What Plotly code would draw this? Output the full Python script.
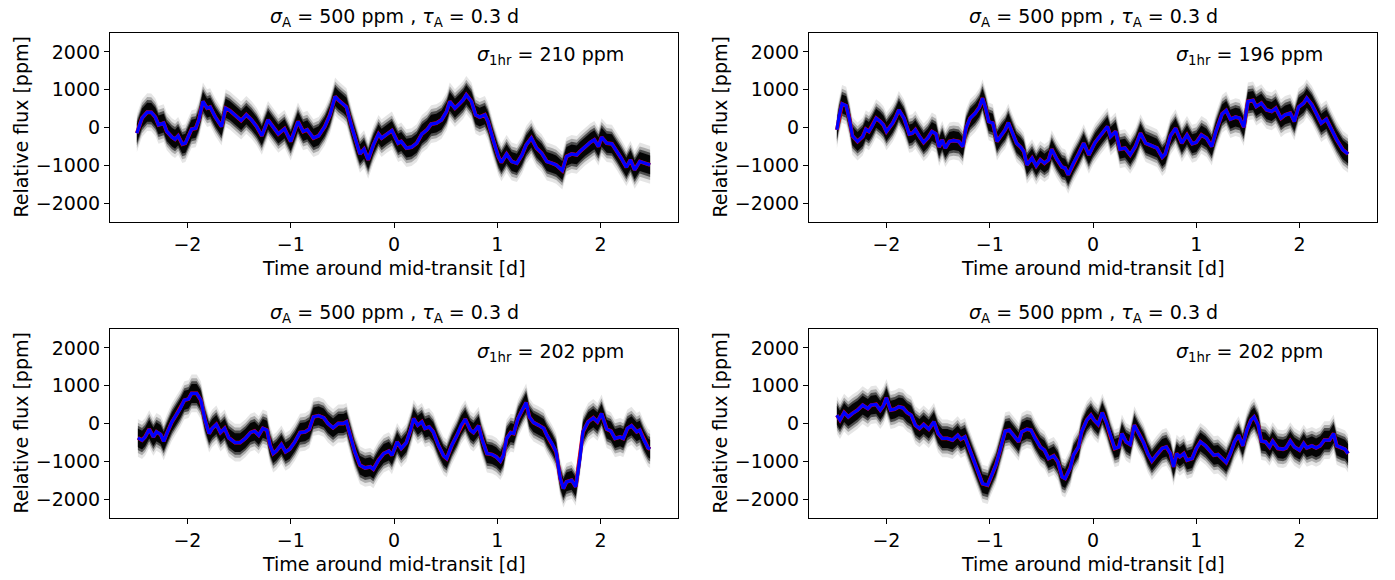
import plotly.graph_objects as go

# ---- binned light curves (time in days, flux in ppm) ----
t_tl = [-2.49, -2.44, -2.39, -2.35, -2.31, -2.28, -2.23, -2.20, -2.15, -2.12, -2.09, -2.05, -2.02,
        -1.99, -1.96, -1.92, -1.89, -1.85, -1.81, -1.78, -1.73, -1.67, -1.63, -1.59, -1.54, -1.48,
        -1.43, -1.38, -1.33, -1.28, -1.22, -1.17, -1.12, -1.06, -1.00, -0.93, -0.88, -0.84, -0.78,
        -0.73, -0.67, -0.62, -0.57, -0.54, -0.49, -0.46, -0.41, -0.36, -0.33, -0.29, -0.25, -0.20,
        -0.15, -0.12, -0.07, -0.02, 0.01, 0.04, 0.07, 0.12, 0.17, 0.22, 0.27, 0.32, 0.36, 0.41, 0.46,
        0.51, 0.54, 0.59, 0.64, 0.67, 0.70, 0.75, 0.79, 0.83, 0.88, 0.91, 0.96, 1.01, 1.04, 1.09,
        1.14, 1.19, 1.24, 1.28, 1.33, 1.38, 1.43, 1.48, 1.53, 1.57, 1.63, 1.67, 1.72, 1.77, 1.80,
        1.85, 1.90, 1.94, 1.98, 2.01, 2.06, 2.11, 2.16, 2.20, 2.25, 2.29, 2.33, 2.38, 2.43, 2.48]
f_tl = [-150, 250, 405, 400, 270, 70, 115, -105, -255, -310, -220, -440, -415,
        -240, -45, -20, 200, 690, 510, 540, 275, 25, 510, 450, 320, 185,
        335, 200, 25, -220, 200, 25, -170, -35, -370, 160, -105, -60, -280,
        -220, 25, 335, 820, 730, 625, 540, 25, -460, -700, -575, -855, -460,
        -170, -280, -170, -80, -250, -415, -370, -545, -520, -415, -170, -60, 90, 115, 200,
        425, 690, 510, 645, 730, 865, 690, 335, 275, 335, 160, -325, -765, -925, -700,
        -900, -945, -725, -460, -280, -545, -680, -900, -945, -990, -1140, -765, -700, -725, -635,
        -505, -395, -325, -505, -255, -415, -430, -635, -810, -1050, -855, -1120, -900, -945, -990]

t_tr = [-2.48, -2.46, -2.43, -2.39, -2.36, -2.33, -2.28, -2.23, -2.20, -2.17, -2.14, -2.10, -2.06,
        -2.03, -2.00, -1.94, -1.91, -1.88, -1.83, -1.78, -1.75, -1.72, -1.68, -1.64, -1.60, -1.56,
        -1.52, -1.49, -1.46, -1.43, -1.39, -1.35, -1.30, -1.26, -1.23, -1.19, -1.14, -1.10, -1.07,
        -1.04, -1.01, -0.97, -0.93, -0.89, -0.85, -0.82, -0.78, -0.74, -0.70, -0.67, -0.64, -0.59,
        -0.55, -0.51, -0.47, -0.43, -0.40, -0.35, -0.30, -0.27, -0.24, -0.19, -0.14, -0.09, -0.04,
        0.00, 0.02, 0.07, 0.14, 0.17, 0.22, 0.26, 0.31, 0.36, 0.41, 0.46, 0.51, 0.55, 0.62, 0.67,
        0.70, 0.75, 0.80, 0.86, 0.91, 0.96, 1.00, 1.05, 1.10, 1.15, 1.19, 1.25, 1.29, 1.33, 1.38,
        1.42, 1.46, 1.50, 1.55, 1.58, 1.63, 1.68, 1.73, 1.77, 1.82, 1.86, 1.91, 1.95, 1.99, 2.04,
        2.07, 2.12, 2.16, 2.21, 2.26, 2.31, 2.36, 2.42, 2.47]
f_tr = [-60, 275, 625, 575, 245, -220, -370, -240, -45, -105, 25, 245, 160,
        70, -105, 115, 275, 465, 245, -170, -150, -60, -240, -395, -280, -105,
        -170, -520, -325, -545, -370, -345, -370, -505, -20, 245, 380, 540, 775,
        510, 160, 115, -370, -195, -60, 130, -150, -415, -520, -635, -990, -810,
        -1015, -855, -945, -855, -575, -840, -1050, -1075, -1250, -945, -700, -415, -725,
        -500, -400, -220, 25, -240, -105, -575, -545, -725, -505, -150, -415, -460, -545, -785,
        -700, -220, -20, -415, -195, -430, -395, -195, -280, -505, -105, 360, 450, 220, 275,
        245, 10, 690, 715, 555, 645, 465, 425, 510, 245, 335, 380, 160, 540, 645,
        775, 600, 380, 115, 220, -60, -325, -590, -700]

t_bl = [-2.48, -2.44, -2.41, -2.37, -2.33, -2.30, -2.26, -2.23, -2.20, -2.15, -2.11, -2.07, -2.03,
        -1.99, -1.96, -1.91, -1.87, -1.83, -1.79, -1.76, -1.72, -1.68, -1.64, -1.60, -1.54, -1.49,
        -1.44, -1.39, -1.35, -1.31, -1.27, -1.23, -1.20, -1.17, -1.14, -1.09, -1.05, -1.01, -0.96,
        -0.91, -0.86, -0.82, -0.78, -0.73, -0.68, -0.64, -0.59, -0.54, -0.49, -0.46, -0.42, -0.38,
        -0.33, -0.28, -0.23, -0.20, -0.15, -0.10, -0.05, -0.02, 0.01, 0.03, 0.07, 0.12, 0.16, 0.19,
        0.23, 0.27, 0.30, 0.34, 0.38, 0.43, 0.48, 0.51, 0.56, 0.61, 0.65, 0.69, 0.74, 0.77, 0.82,
        0.85, 0.90, 0.95, 0.99, 1.03, 1.06, 1.09, 1.13, 1.16, 1.20, 1.25, 1.28, 1.31, 1.35, 1.40,
        1.45, 1.48, 1.53, 1.57, 1.61, 1.64, 1.67, 1.72, 1.76, 1.80, 1.83, 1.88, 1.93, 1.97, 2.01,
        2.06, 2.10, 2.14, 2.19, 2.22, 2.26, 2.30, 2.35, 2.38, 2.42, 2.46, 2.48]
f_bl = [-380, -440, -355, -150, -355, -220, -290, -470, -265, 45, 220, 395, 615,
        645, 795, 795, 615, 90, -265, -130, -25, -240, -130, -380, -505, -505,
        -395, -240, -200, -310, -130, -175, -575, -795, -730, -555, -750, -680, -485,
        -240, -220, -150, 175, 205, 150, 0, -115, 0, 0, 45, -355, -750,
        -1100, -1175, -1145, -1210, -970, -795, -730, -840, -640, -485, -660, -505, -175, 130,
        -45, 45, -130, -90, -220, -575, -855, -925, -575, -310, -45, 115, -175, -240, -60,
        -395, -795, -820, -880, -995, -840, -395, -240, -265, 130, 415, 555, 175, 25, -45,
        -130, -310, -530, -750, -1455, -1720, -1545, -1500, -1675, -925, -220, 45, 150, 45, 265,
        -150, -200, -395, -355, -395, -130, -60, -220, -175, -440, -645, -680]

t_br = [-2.48, -2.45, -2.41, -2.37, -2.33, -2.28, -2.23, -2.18, -2.15, -2.10, -2.06, -2.03, -2.00,
        -1.96, -1.92, -1.88, -1.84, -1.80, -1.76, -1.72, -1.68, -1.64, -1.59, -1.54, -1.50, -1.46,
        -1.41, -1.36, -1.31, -1.28, -1.24, -1.20, -1.15, -1.10, -1.07, -1.02, -0.99, -0.94, -0.90,
        -0.85, -0.81, -0.77, -0.72, -0.69, -0.64, -0.60, -0.56, -0.51, -0.47, -0.43, -0.38, -0.34,
        -0.30, -0.27, -0.22, -0.19, -0.14, -0.11, -0.06, -0.02, 0.01, 0.05, 0.09, 0.13, 0.17, 0.21,
        0.25, 0.28, 0.32, 0.36, 0.40, 0.44, 0.49, 0.53, 0.57, 0.62, 0.67, 0.71, 0.75, 0.78, 0.81,
        0.84, 0.88, 0.91, 0.96, 1.00, 1.04, 1.09, 1.13, 1.17, 1.21, 1.26, 1.29, 1.33, 1.37, 1.41,
        1.45, 1.49, 1.53, 1.56, 1.60, 1.63, 1.67, 1.71, 1.74, 1.79, 1.84, 1.87, 1.91, 1.95, 2.00,
        2.04, 2.07, 2.12, 2.16, 2.20, 2.24, 2.29, 2.33, 2.36, 2.41, 2.44, 2.47]
f_br = [220, 90, 290, 175, 265, 355, 485, 395, 485, 505, 355, 470, 680,
        355, 380, 440, 415, 290, 220, -45, -130, -25, -150, 45, -265, -395,
        -395, -440, -310, -415, -355, -660, -1015, -1365, -1590, -1630, -1410, -1100, -705,
        -200, -175, -310, -485, -220, -150, -175, -395, -620, -705, -925, -855, -1015,
        -1410, -1455, -1175, -840, -620, -220, 90, 220, 90, -25, 290, 25, -355, -660,
        -620, -265, -485, -555, -45, -265, -505, -795, -995, -820, -660, -620, -795, -1145, -795,
        -880, -795, -970, -925, -660, -485, -590, -705, -840, -820, -945, -1030, -795, -485, -310,
        -590, -175, 90, 175, -45, -465, -485, -620, -465, -660, -680, -645, -465, -620, -705,
        -530, -645, -590, -645, -590, -440, -440, -265, -590, -660, -680, -795]

sigma_1hr = ["210", "196", "202", "202"]
tick_x = [-2, -1, 0, 1, 2]
tick_y = [-2000, -1000, 0, 1000, 2000]

# ---- styling ----
W, H = 1395, 580
FONT = "DejaVu Sans"
FS = 19
# half-widths (ppm) and fills of the nested envelopes that render the exposure cloud
SPREADS = [(500, "rgba(0,0,0,0.10)"), (400, "rgba(0,0,0,0.25)"),
           (320, "rgba(0,0,0,0.55)"), (250, "rgba(0,0,0,0.95)")]

# panel frames in pixels: (left, right, top, bottom)
frames = [(110, 678, 33, 222), (809, 1377, 33, 222),
          (110, 678, 329, 518), (809, 1377, 329, 518)]
series = [(t_tl, f_tl), (t_tr, f_tr), (t_bl, f_bl), (t_br, f_br)]


def px_x(v):
    return v / W


def px_y(v):
    return 1 - v / H


fig = go.Figure()
layout = dict(width=W, height=H, autosize=False, margin=dict(l=0, r=0, t=0, b=0),
              plot_bgcolor="white", paper_bgcolor="white", showlegend=False,
              font=dict(family=FONT, size=FS, color="black"))
annotations = []
txt_font = dict(family=FONT, size=FS, color="black")

for i, ((t, f), (l, r, tp, bt)) in enumerate(zip(series, frames)):
    n = i + 1
    xa = "x" if n == 1 else f"x{n}"
    ya = "y" if n == 1 else f"y{n}"
    axis_common = dict(showgrid=False, zeroline=False, showline=True, mirror=True,
                       linecolor="black", linewidth=1.1, ticks="outside", ticklen=5,
                       tickwidth=1.1, tickcolor="black", tickfont=txt_font)
    layout["xaxis" if n == 1 else f"xaxis{n}"] = dict(
        domain=[px_x(l), px_x(r)], range=[-2.75, 2.75], tickvals=tick_x,
        anchor=ya, **axis_common)
    layout["yaxis" if n == 1 else f"yaxis{n}"] = dict(
        domain=[px_y(bt), px_y(tp)], range=[-2500, 2500], tickvals=tick_y,
        anchor=xa, **axis_common)

    # scatter cloud of individual exposures, drawn as nested envelopes
    for spread, col in SPREADS:
        upper = [v + spread for v in f]
        lower = [v - spread for v in f]
        fig.add_trace(go.Scatter(x=t + t[::-1], y=upper + lower[::-1], mode="lines",
                                 fill="toself", fillcolor=col, line=dict(width=0),
                                 xaxis=xa, yaxis=ya, hoverinfo="skip"))
    # underlying model (red) and binned curve (blue)
    fig.add_trace(go.Scatter(x=t, y=f, mode="lines", line=dict(color="red", width=3.8),
                             xaxis=xa, yaxis=ya))
    fig.add_trace(go.Scatter(x=t, y=f, mode="lines", line=dict(color="blue", width=3.3),
                             xaxis=xa, yaxis=ya))

    cx = (l + r) / 2
    annotations.append(dict(
        text="<i>σ</i><sub>A</sub> = 500 ppm , <i>τ</i><sub>A</sub> = 0.3 d",
        x=px_x(cx), y=px_y(tp - 16), xref="paper", yref="paper",
        xanchor="center", yanchor="middle", showarrow=False, font=txt_font))
    annotations.append(dict(
        text=f"<i>σ</i><sub>1hr</sub> = {sigma_1hr[i]} ppm",
        x=px_x(l + 440), y=px_y(tp + 23), xref="paper", yref="paper",
        xanchor="center", yanchor="middle", showarrow=False, font=txt_font))
    annotations.append(dict(
        text="Time around mid-transit [d]",
        x=px_x(cx), y=px_y(bt + 46), xref="paper", yref="paper",
        xanchor="center", yanchor="middle", showarrow=False, font=txt_font))
    annotations.append(dict(
        text="Relative flux [ppm]", textangle=-90,
        x=px_x(l - 90), y=px_y((tp + bt) / 2), xref="paper", yref="paper",
        xanchor="center", yanchor="middle", showarrow=False, font=txt_font))

layout["annotations"] = annotations
fig.update_layout(**layout)
fig.write_html("out.html")
